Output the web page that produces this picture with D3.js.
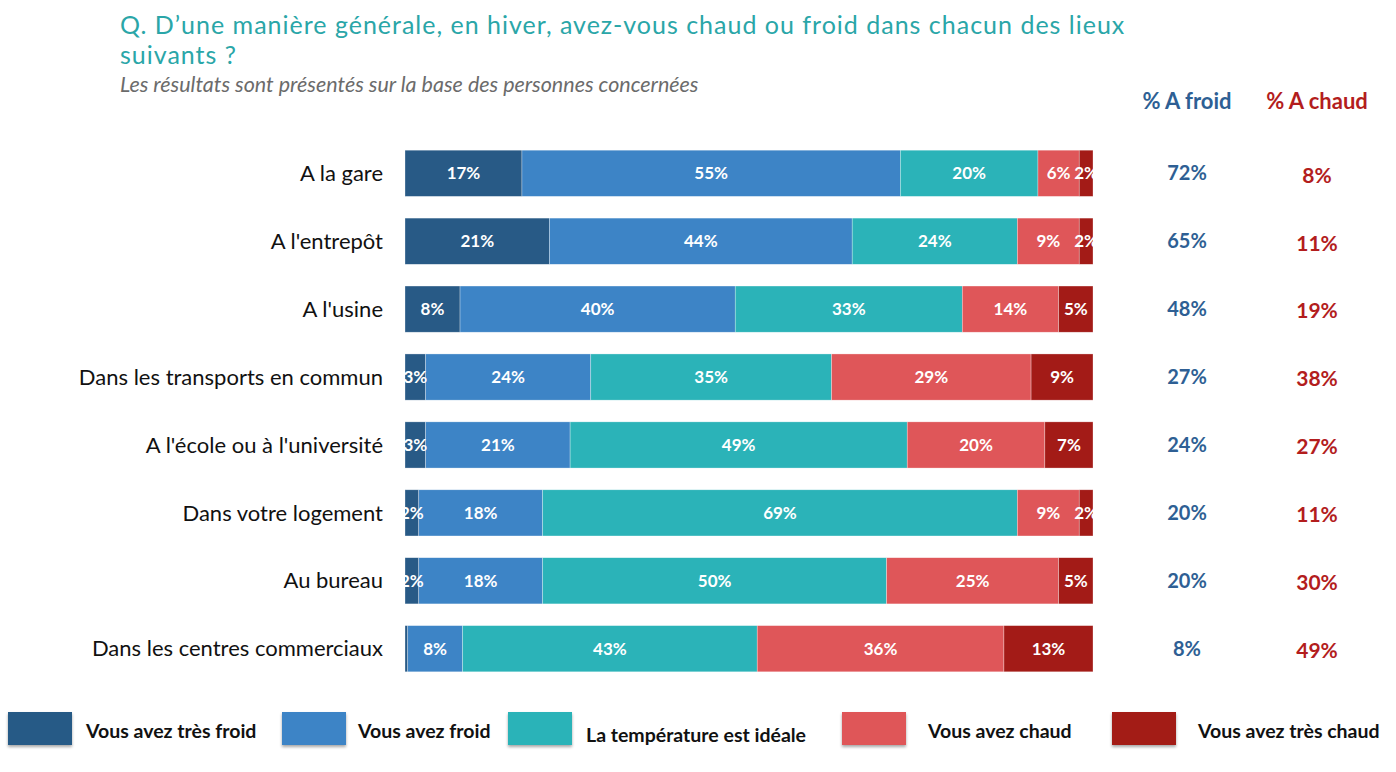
<!DOCTYPE html>
<html>
<head>
<meta charset="utf-8">
<script src="https://cdn.jsdelivr.net/npm/d3@7"></script>
<style>
  body { margin: 0; background: #fff; }
  svg { display: block; }
</style>
</head>
<body>
<div id="chart"></div>
<script>
const categories = ["A la gare", "A l'entrepôt", "A l'usine", "Dans les transports en commun",
  "A l'école ou à l'université", "Dans votre logement", "Au bureau", "Dans les centres commerciaux"]
const seriesNames = ["Vous avez très froid", "Vous avez froid", "La température est idéale",
  "Vous avez chaud", "Vous avez très chaud"]
const tresFroid = [17, 21, 8, 3, 3, 2, 2, 0.4]
const froid     = [55, 44, 40, 24, 21, 18, 18, 8]
const ideale    = [20, 24, 33, 35, 49, 69, 50, 43]
const chaud     = [6, 9, 14, 29, 20, 9, 25, 36]
const tresChaud = [2, 2, 5, 9, 7, 2, 5, 13]
const totalFroid = [72, 65, 48, 27, 24, 20, 20, 8]
const totalChaud = [8, 11, 19, 38, 27, 11, 30, 49]
const colors = ["#285a86", "#3d84c6", "#2bb3b8", "#df5659", "#a31b17"]

const W = 1396, H = 772
const MARGIN = {LEFT: 405, RIGHT: 303, TOP: 140, BOTTOM: 90}
const WIDTH = W - MARGIN.LEFT - MARGIN.RIGHT
const HEIGHT = H - MARGIN.TOP - MARGIN.BOTTOM

const svg = d3.select('#chart').append('svg')
  .attr('width', W).attr('height', H)
  .style('font-family', 'Lato, "Open Sans", sans-serif')

// title
svg.append('text').attr('x', 120).attr('y', 34)
  .attr('fill', '#2aa6a8').attr('font-size', 25).attr('letter-spacing', 1)
  .text("Q. D’une manière générale, en hiver, avez-vous chaud ou froid dans chacun des lieux")
svg.append('text').attr('x', 120).attr('y', 64)
  .attr('fill', '#2aa6a8').attr('font-size', 25).attr('letter-spacing', 1)
  .text("suivants ?")
svg.append('text').attr('x', 120).attr('y', 92)
  .attr('fill', '#6b6b6b').attr('font-size', 21.5).attr('font-style', 'italic')
  .text("Les résultats sont présentés sur la base des personnes concernées")

const rows = categories.map((c, i) => {
  const vals = [tresFroid[i], froid[i], ideale[i], chaud[i], tresChaud[i]]
  const total = d3.sum(vals)
  let acc = 0
  const segs = vals.map((v, k) => {
    const s = {k, v, x0: acc / total, x1: (acc + v) / total}
    acc += v
    return s
  })
  return {c, i, segs}
})

const x = d3.scaleLinear().domain([0, 1]).range([MARGIN.LEFT, MARGIN.LEFT + WIDTH])
const y = d3.scaleBand().domain(categories)
  .range([MARGIN.TOP, MARGIN.TOP + HEIGHT]).paddingInner(0.32).paddingOuter(0.15)

const g = svg.selectAll('g.row').data(rows).enter().append('g').attr('class', 'row')

g.selectAll('rect').data(d => d.segs.map(s => ({...s, c: d.c}))).enter().append('rect')
  .attr('x', s => x(s.x0))
  .attr('y', s => y(s.c))
  .attr('width', s => x(s.x1) - x(s.x0))
  .attr('height', y.bandwidth())
  .attr('fill', s => colors[s.k])
  .attr('stroke', '#ffffff').attr('stroke-width', 0.6).attr('stroke-opacity', 0.5)

g.selectAll('text.val').data(d => d.segs.filter(s => s.v >= 1).map(s => ({...s, c: d.c}))).enter()
  .append('text').attr('class', 'val')
  .attr('x', s => (x(s.x0) + x(s.x1)) / 2)
  .attr('y', s => y(s.c) + y.bandwidth() / 2)
  .attr('dy', '0.35em')
  .attr('text-anchor', 'middle')
  .attr('fill', '#fff').attr('font-weight', 'bold').attr('font-size', 17)
  .text(s => s.v + '%')

// category labels
svg.selectAll('text.cat').data(categories).enter().append('text').attr('class', 'cat')
  .attr('x', 383).attr('y', d => y(d) + y.bandwidth() / 2).attr('dy', '0.35em')
  .attr('text-anchor', 'end').attr('fill', '#111').attr('font-size', 22)
  .text(d => d)

// totals
const colF = 1187, colC = 1317
svg.append('text').attr('x', colF).attr('y', 109).attr('text-anchor', 'middle')
  .attr('fill', '#2e5f94').attr('font-weight', 'bold').attr('font-size', 22).text('% A froid')
svg.append('text').attr('x', colC).attr('y', 109).attr('text-anchor', 'middle')
  .attr('fill', '#b31d1d').attr('font-weight', 'bold').attr('font-size', 22).text('% A chaud')
svg.selectAll('text.tf').data(totalFroid).enter().append('text').attr('class', 'tf')
  .attr('x', colF).attr('y', (d, i) => y(categories[i]) + y.bandwidth() / 2).attr('dy', '0.35em')
  .attr('text-anchor', 'middle').attr('fill', '#2e5f94').attr('font-weight', 'bold').attr('font-size', 20)
  .text(d => d + '%')
svg.selectAll('text.tc').data(totalChaud).enter().append('text').attr('class', 'tc')
  .attr('x', colC).attr('y', (d, i) => y(categories[i]) + y.bandwidth() / 2 + 2).attr('dy', '0.35em')
  .attr('text-anchor', 'middle').attr('fill', '#b31d1d').attr('font-weight', 'bold').attr('font-size', 21)
  .text(d => d + '%')

// legend
const defs = svg.append('defs')
const f = defs.append('filter').attr('id', 'sh').attr('x', '-20%').attr('y', '-20%').attr('width', '140%').attr('height', '160%')
f.append('feDropShadow').attr('dx', 0).attr('dy', 2).attr('stdDeviation', 1.5).attr('flood-opacity', 0.35)
const legX = [8, 282, 508, 842, 1112]
const legTextX = [86, 358, 586, 928, 1198]
const leg = svg.selectAll('g.leg').data(seriesNames).enter().append('g').attr('class', 'leg')
leg.append('rect').attr('x', (d, i) => legX[i]).attr('y', 712).attr('width', 64).attr('height', 33)
  .attr('fill', (d, i) => colors[i]).attr('filter', 'url(#sh)')
leg.append('text').attr('x', (d, i) => legTextX[i]).attr('y', (d, i) => i === 2 ? 735 : 731)
  .attr('dy', '0.35em').attr('fill', '#111').attr('font-weight', 'bold').attr('font-size', 19.5)
  .text(d => d)
</script>
</body>
</html>
